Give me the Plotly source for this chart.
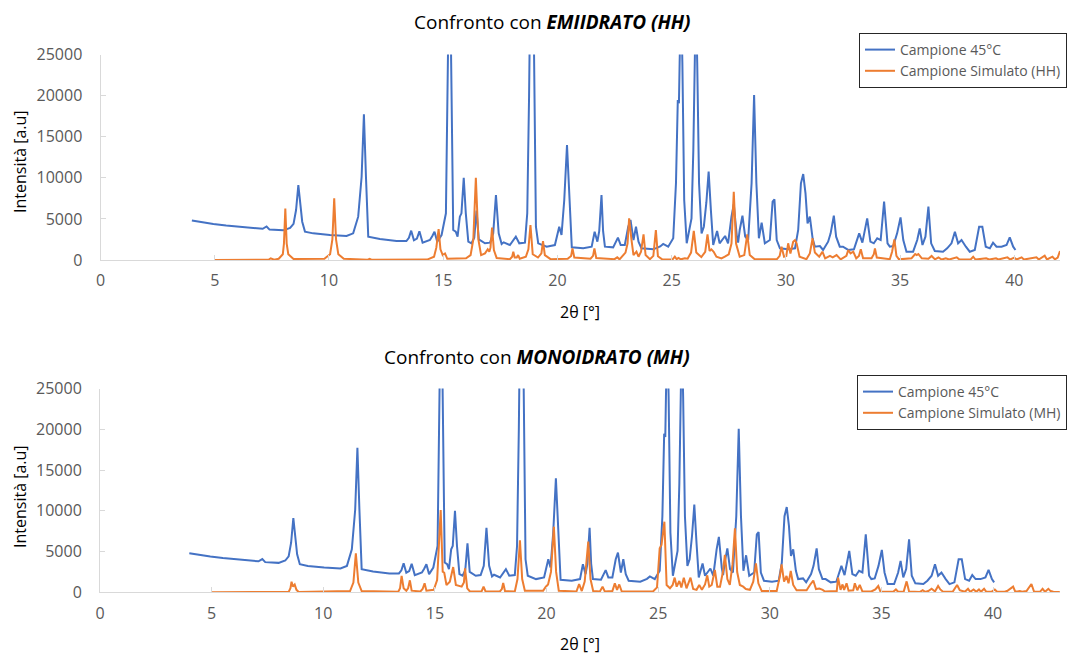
import plotly.graph_objects as go

# ---- Campione 45°C (measured pattern, same in both panels) ----
blue_x = [4.0, 4.3, 4.94, 5.5, 6.4, 7.1, 7.27, 7.4, 8.0, 8.3, 8.45, 8.56, 8.66, 8.76, 8.83, 8.95,
          9.31, 10.04, 10.77, 11.06, 11.28, 11.43, 11.53, 11.62, 11.72, 12.23, 12.96, 13.39, 13.5,
          13.6, 13.72, 13.85, 13.96, 14.1, 14.42, 14.52, 14.62, 14.74, 14.93, 15.12, 15.21, 15.28,
          15.35, 15.44, 15.55, 15.63, 15.73, 15.8, 15.9, 15.99, 16.1, 16.24, 16.36, 16.46, 16.56,
          16.83, 17.05, 17.19, 17.31, 17.43, 17.56, 17.65, 17.92, 18.18, 18.33, 18.58, 18.68, 18.76,
          18.88, 18.99, 19.06, 19.16, 19.53, 19.89, 20.08, 20.18, 20.3, 20.42, 20.53, 20.63, 21.13,
          21.5, 21.63, 21.75, 21.83, 21.93, 22.0, 22.08, 22.44, 22.65, 22.77, 22.95, 23.1, 23.2,
          23.33, 23.44, 23.55, 23.68, 24.2, 24.5, 24.63, 24.85, 25.07, 25.19, 25.27, 25.32, 25.35,
          25.41, 25.47, 25.55, 25.66, 25.78, 25.87, 25.95, 26.0, 26.06, 26.12, 26.2, 26.31, 26.41,
          26.52, 26.62, 26.72, 26.82, 26.99, 27.1, 27.34, 27.47, 27.62, 27.72, 27.85, 27.91, 27.98,
          28.1, 28.22, 28.35, 28.5, 28.61, 28.71, 28.82, 28.94, 29.08, 29.3, 29.42, 29.5, 29.6,
          29.74, 30.1, 30.4, 30.54, 30.66, 30.76, 30.86, 30.95, 31.05, 31.17, 31.27, 31.49, 31.63,
          31.85, 31.96, 32.1, 32.2, 32.36, 32.5, 32.73, 32.98, 33.21, 33.35, 33.56, 33.7, 33.85,
          34.0, 34.15, 34.3, 34.45, 34.55, 34.7, 34.87, 35.02, 35.14, 35.28, 35.57, 35.75, 35.86,
          35.98, 36.11, 36.24, 36.36, 36.52, 36.88, 37.06, 37.25, 37.4, 37.54, 37.69, 37.88, 38.05,
          38.27, 38.46, 38.6, 38.75, 38.93, 39.07, 39.22, 39.44, 39.66, 39.8, 39.95, 40.05]
blue_y = [4800, 4650, 4380, 4200, 3970, 3800, 4080, 3700, 3610, 3900, 4400, 6080, 9100, 6080, 4660, 3450,
          3240, 3040, 2920, 3240, 5270, 10130, 17720, 10130, 2840, 2550, 2310, 2310, 2700,
          3570, 2400, 2600, 3490, 2110, 2430, 2900, 3440, 2230, 3040, 5680, 24000, 40000,
          24000, 3650, 3440, 2840, 5270, 5680, 10010, 5680, 2230, 2030, 2700, 6000, 2500,
          2030, 2110, 3240, 7910, 3240, 1950, 2150, 1820, 2840, 2030, 2110, 5680, 20000,
          50000, 20000, 4050, 2030, 1620, 1820, 4050, 3040, 7300, 13990, 7300, 1540, 1420,
          1620, 3440, 2230, 3500, 7910, 3500, 1620, 1540, 2720, 1820, 1820, 4050, 4870,
          2430, 4050, 2230, 1420, 1300, 1650, 1950, 1620, 2640, 9330, 19460, 19060, 24000,
          32000, 24000, 7300, 2030, 3650, 5070, 13380, 24000, 32000, 24000, 9330, 3240, 4050,
          7000, 10750, 6000, 1820, 3530, 2030, 2920, 2030, 5270, 6800, 3000, 2110, 3650,
          5390, 2840, 2430, 9330, 20070, 9330, 2640, 4540, 2030, 2430, 7100, 7380, 2430,
          1420, 1300, 1420, 3650, 9330, 10460, 8110, 4460, 5270, 2640, 1620, 1700, 1220,
          2230, 3240, 5390, 2840, 1620, 1620, 1220, 1300, 3240, 2110, 5070, 2230, 2030,
          2640, 2430, 7100, 2030, 1620, 1700, 3240, 5190, 2430, 1010, 1010, 2430, 3850,
          1820, 2840, 6490, 2030, 1100, 1010, 1420, 2030, 3440, 2030, 2430, 1620, 1010,
          1220, 4050, 4050, 1620, 1420, 2110, 1620, 1620, 1820, 2760, 1620, 1220]

# ---- Campione Simulato (HH) ----
hh_x = [5.0, 7.35, 7.45, 7.6, 7.8, 7.98, 8.03, 8.09, 8.15, 8.22, 8.45, 9.8, 10.05, 10.15, 10.23,
        10.31, 10.41, 10.65, 11.7, 11.78, 11.86, 14.3, 14.6, 14.7, 14.8, 14.88, 14.98, 15.08, 15.18,
        16.0, 16.2, 16.32, 16.43, 16.54, 16.66, 16.83, 16.95, 17.02, 17.07, 17.14, 17.22, 17.34,
        17.92, 18.02, 18.07, 18.13, 18.22, 18.28, 18.35, 18.62, 18.73, 18.82, 18.92, 19.15, 19.3,
        19.37, 19.45, 19.7, 20.45, 20.6, 20.66, 20.74, 21.45, 21.56, 21.62, 21.7, 22.5, 22.62,
        22.72, 22.98, 23.07, 23.14, 23.24, 23.33, 23.46, 23.55, 23.66, 23.77, 23.86, 24.05, 24.2,
        24.31, 24.4, 24.6, 25.05, 25.14, 25.22, 25.3, 25.4, 25.58, 25.7, 25.85, 25.97, 26.08,
        26.3, 26.47, 26.57, 26.66, 26.74, 26.84, 26.96, 27.18, 27.33, 27.5, 27.62, 27.72, 27.82,
        27.98, 28.18, 28.31, 28.42, 28.64, 29.6, 29.73, 29.81, 29.92, 30.02, 30.1, 30.2, 30.32,
        30.4, 30.47, 30.6, 30.9, 31.05, 31.17, 31.27, 31.46, 31.6, 31.72, 31.93, 32.05, 32.22,
        32.4, 32.65, 32.73, 32.83, 32.95, 33.08, 33.2, 33.28, 33.38, 33.75, 33.85, 33.9, 33.98,
        34.55, 34.65, 34.75, 34.84, 34.95, 35.5, 35.66, 35.73, 35.8, 35.95, 36.24, 36.38, 36.53,
        36.68, 36.82, 37.0, 37.15, 37.48, 37.6, 38.1, 38.2, 38.3, 38.77, 38.9, 39.2, 39.3, 39.7,
        39.82, 40.0, 40.1, 40.32, 40.42, 40.97, 41.07, 41.33, 41.43, 41.67, 41.78, 41.9, 42.0]
hh_y = [0, 30, 200, 30, 150, 700, 2000, 6250, 2000, 700, 120, 150, 700, 2500, 7500,
        2500, 700, 150, 30, 130, 30, 50, 400, 1500, 3770, 1300, 600, 800, 150,
        200, 600, 2500, 10010, 2500, 600, 800, 1300, 1000, 1500, 3930, 1200, 250,
        100, 400, 1000, 300, 300, 600, 150, 400, 1300, 4260, 700, 300, 800,
        2310, 600, 100, 150, 500, 1420, 300, 150, 500, 1420, 250, 100, 320,
        80, 900, 2000, 5070, 2500, 600, 1010, 400, 1000, 3120, 600, 100, 500,
        3650, 450, 50, 100, 400, 100, 250, 80, 200, 150, 900, 3530, 900,
        350, 1000, 3120, 1100, 1300, 1000, 400, 200, 400, 700, 2000, 8310, 2000,
        400, 600, 3120, 600, 80, 80, 500, 1620, 400, 500, 2030, 800, 2230,
        2430, 2030, 400, 100, 800, 2640, 900, 400, 1010, 200, 500, 320, 600,
        80, 500, 1220, 800, 1010, 200, 500, 1300, 200, 200, 700, 1420, 300,
        100, 1000, 2510, 500, 80, 200, 730, 600, 730, 200, 150, 490, 80,
        320, 60, 200, 60, 320, 60, 100, 400, 60, 200, 60, 200, 60, 320,
        60, 280, 60, 320, 60, 320, 60, 530, 60, 400, 80, 300, 1100]

# ---- Campione Simulato (MH) ----
mh_x = [5.0, 8.45, 8.53, 8.58, 8.64, 8.72, 8.8, 8.9, 11.2, 11.35, 11.46, 11.57, 11.72, 13.36, 13.44,
        13.51, 13.6, 13.72, 13.8, 13.88, 13.96, 14.35, 14.45, 14.54, 14.62, 14.95, 15.1, 15.26,
        15.35, 15.42, 15.52, 15.67, 15.82, 15.94, 16.2, 16.3, 16.35, 16.45, 16.57, 17.09, 17.18,
        17.27, 17.91, 18.0, 18.06, 18.14, 18.58, 18.7, 18.81, 18.91, 19.03, 19.85, 19.97, 20.07,
        20.2, 20.33, 20.43, 20.55, 21.34, 21.46, 21.58, 21.71, 21.87, 21.97, 22.09, 22.39, 22.51,
        22.61, 22.95, 23.06, 23.16, 23.26, 23.37, 24.77, 24.95, 25.07, 25.15, 25.28, 25.38, 25.53,
        25.65, 25.74, 25.83, 25.95, 26.04, 26.15, 26.27, 26.45, 26.57, 26.72, 26.84, 26.96, 27.1,
        27.2, 27.29, 27.4, 27.54, 27.65, 27.77, 27.9, 27.99, 28.1, 28.21, 28.33, 28.44, 28.54,
        28.66, 28.81, 28.93, 29.11, 29.26, 29.38, 29.49, 29.64, 30.31, 30.46, 30.53, 30.64, 30.75,
        30.84, 30.94, 31.05, 31.2, 31.65, 31.8, 31.95, 32.07, 32.22, 32.37, 32.47, 33.0, 33.06,
        33.17, 33.26, 33.33, 33.44, 33.53, 33.74, 33.81, 33.92, 34.03, 34.15, 34.55, 34.73, 34.86,
        34.96, 35.53, 35.65, 35.75, 36.0, 36.13, 36.24, 36.73, 36.85, 36.96, 37.1, 37.25, 37.4,
        37.54, 37.64, 37.76, 38.2, 38.39, 38.51, 38.74, 38.88, 38.98, 39.13, 39.25, 39.37, 39.46,
        39.6, 39.7, 39.93, 40.08, 40.18, 40.52, 40.63, 40.9, 41.0, 41.2, 41.3, 41.5, 41.72, 41.84,
        42.1, 42.22, 42.33, 42.48, 42.58, 42.7, 42.99]
mh_y = [0, 50, 500, 1300, 700, 950, 300, 50, 150, 1200, 4780, 1200, 150, 80, 500,
        2000, 500, 200, 500, 1470, 200, 100, 400, 1100, 200, 300, 1500, 10100,
        2530, 2400, 900, 1300, 3100, 900, 700, 1200, 2940, 490, 100, 100, 700,
        100, 100, 400, 1140, 150, 100, 1630, 6380, 1630, 200, 200, 690, 960,
        2500, 8050, 2500, 200, 100, 1000, 150, 1310, 6210, 1630, 150, 100, 690,
        100, 150, 1100, 300, 960, 100, 100, 600, 5400, 5800, 8660, 900, 490,
        900, 1800, 690, 1390, 600, 1800, 490, 1800, 400, 300, 900, 300, 960,
        2080, 700, 900, 2740, 690, 690, 2490, 4580, 1630, 900, 3390, 7850, 2490,
        900, 690, 400, 300, 1310, 3560, 1100, 150, 150, 2080, 3430, 1310, 2000,
        1100, 2610, 900, 250, 250, 900, 1440, 400, 450, 300, 100, 150, 1800,
        300, 960, 300, 1100, 200, 250, 1100, 250, 900, 100, 100, 350, 770,
        80, 60, 350, 60, 100, 1340, 100, 50, 250, 50, 150, 430, 100,
        780, 350, 60, 100, 900, 250, 60, 430, 60, 350, 60, 350, 60,
        430, 60, 60, 350, 60, 60, 150, 700, 60, 150, 60, 150, 1020, 60,
        60, 430, 60, 430, 150, 60, 50]

x_ticks = [0, 5, 10, 15, 20, 25, 30, 35, 40]
y_ticks = [0, 5000, 10000, 15000, 20000, 25000]

BLUE = "#4472C4"
ORANGE = "#ED7D31"
FONT = "Open Sans"
W, H = 1067, 655

fig = go.Figure()
fig.add_trace(go.Scatter(x=blue_x, y=blue_y, mode="lines", name="Campione 45°C",
                         line=dict(color=BLUE, width=2), xaxis="x", yaxis="y", legend="legend"))
fig.add_trace(go.Scatter(x=hh_x, y=hh_y, mode="lines", name="Campione Simulato (HH)",
                         line=dict(color=ORANGE, width=2), xaxis="x", yaxis="y", legend="legend"))
fig.add_trace(go.Scatter(x=blue_x, y=blue_y, mode="lines", name="Campione 45°C",
                         line=dict(color=BLUE, width=2), xaxis="x2", yaxis="y2", legend="legend2"))
fig.add_trace(go.Scatter(x=mh_x, y=mh_y, mode="lines", name="Campione Simulato (MH)",
                         line=dict(color=ORANGE, width=2), xaxis="x2", yaxis="y2", legend="legend2"))

tickfont = dict(family=FONT, size=16, color="#595959")
common_x = dict(tickvals=x_ticks, ticks="inside", ticklen=5, tickcolor="#D9D9D9",
                showline=True, linecolor="#D9D9D9", linewidth=1, showgrid=False,
                zeroline=False, tickfont=tickfont, ticklabelstandoff=6, automargin=False)
common_y = dict(range=[0, 25000], tickvals=y_ticks, tickformat="d", ticks="inside", ticklen=5,
                tickcolor="#D9D9D9", showline=True, linecolor="#D9D9D9", linewidth=1,
                showgrid=False, zeroline=False, tickfont=tickfont, ticklabelstandoff=14,
                automargin=False)

legend_common = dict(xanchor="right", x=1.0, yanchor="top", bgcolor="white",
                     bordercolor="#262626", borderwidth=1,
                     font=dict(family=FONT, size=14, color="#595959"),
                     tracegroupgap=0, itemwidth=30)

fig.update_layout(
    width=W, height=H, autosize=False,
    margin=dict(l=0, r=0, t=0, b=0, pad=0, autoexpand=False),
    paper_bgcolor="white", plot_bgcolor="white",
    font=dict(family=FONT),
    xaxis=dict(domain=[100.5 / W, 1060 / W], range=[0, 42], anchor="y", **common_x),
    yaxis=dict(domain=[1 - 260 / H, 1 - 54.5 / H], anchor="x", **common_y),
    xaxis2=dict(domain=[100 / W, 1060 / W], range=[0, 43], anchor="y2", **common_x),
    yaxis2=dict(domain=[1 - 592.3 / H, 1 - 388.5 / H], anchor="x2", **common_y),
    legend=dict(y=1 - 33 / H, **legend_common),
    legend2=dict(y=1 - 375 / H, **legend_common),
    showlegend=True,
)

ann_font = dict(family=FONT, size=19, color="black")
lab_font = dict(family=FONT, size=16, color="black")
annotations = [
    dict(text="Confronto con <b><i>EMIIDRATO (HH)</i></b>", x=552 / W, y=1 - 22 / H,
         xref="paper", yref="paper", showarrow=False, font=ann_font, xanchor="center", yanchor="middle"),
    dict(text="Confronto con <b><i>MONOIDRATO (MH)</i></b>", x=537 / W, y=1 - 357 / H,
         xref="paper", yref="paper", showarrow=False, font=ann_font, xanchor="center", yanchor="middle"),
    dict(text="2θ [°]", x=580 / W, y=1 - 312 / H, xref="paper", yref="paper", showarrow=False,
         font=lab_font, xanchor="center", yanchor="middle"),
    dict(text="2θ [°]", x=580 / W, y=1 - 644 / H, xref="paper", yref="paper", showarrow=False,
         font=lab_font, xanchor="center", yanchor="middle"),
    dict(text="Intensità [a.u]", x=20 / W, y=1 - 162 / H, xref="paper", yref="paper",
         showarrow=False, font=lab_font, textangle=-90, xanchor="center", yanchor="middle"),
    dict(text="Intensità [a.u]", x=20 / W, y=1 - 497 / H, xref="paper", yref="paper",
         showarrow=False, font=lab_font, textangle=-90, xanchor="center", yanchor="middle"),
]
fig.update_layout(annotations=annotations)

fig.write_html("out.html", post_script="document.body.style.margin='0px';")
